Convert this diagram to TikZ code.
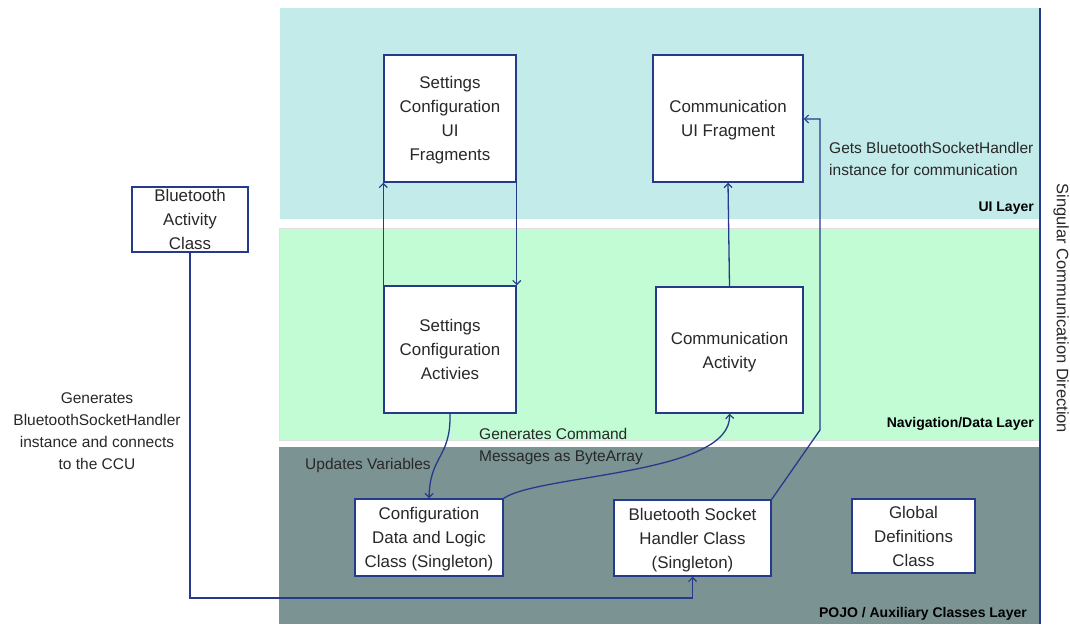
\documentclass[tikz,border=0pt]{standalone}
\usepackage{fontspec}
\setmainfont{Liberation Sans}
\usetikzlibrary{arrows.meta}

\definecolor{linkblue}{RGB}{38,58,140}
\definecolor{uilayer}{RGB}{194,235,233}
\definecolor{navlayer}{RGB}{193,252,213}
\definecolor{pojolayer}{RGB}{123,147,147}
\definecolor{textgray}{RGB}{40,40,40}

% struts giving every class label the same first-line height and last-line depth
\newcommand{\toprule}{\rule{0pt}{17.3pt}}
\newcommand{\botrule}{\rule[-5pt]{0pt}{5pt}}

\tikzset{
  classbox/.style={draw=linkblue, line width=1.5pt, fill=white, inner sep=0pt,
    align=center, text=textgray, font=\fontsize{16.9}{24}\selectfont,
    execute at end node=\botrule},
  tightbox/.style={classbox, execute at end node={}, inner ysep=-3pt},
  link/.style={draw=linkblue, line width=1.3pt,
    -{Straight Barb[length=4pt,width=8pt,line width=1.2pt]}},
  note/.style={inner sep=0pt, text=textgray, font=\fontsize{15.5}{22}\selectfont},
  layername/.style={inner sep=0pt, text=black, font=\fontsize{14}{17}\selectfont\bfseries},
}

\begin{document}
\begin{tikzpicture}[x=1pt, y=-1pt]
  \useasboundingbox (0,0) rectangle (1070,624);

  % layer bands
  \fill[uilayer] (280,8) rectangle (1039,219);
  \fill[navlayer] (279,228) rectangle (1039,440);
  \draw[black!12, line width=0.6pt] (279,228) rectangle (1039,440);
  \fill[pojolayer] (279,447) rectangle (1039,624);
  \draw[linkblue, line width=1.2pt] (1040,8) -- (1040,624);

  % layer names
  \node[layername, anchor=base east] (uiname) at (1034,211) {UI Layer};
  \node[layername, anchor=base east] (navname) at (1034,427) {Navigation/Data Layer};
  \node[layername, anchor=base east] (pojoname) at (1027,617) {POJO / Auxiliary Classes Layer};
  \node[note, rotate=-90, font=\fontsize{16.5}{20}\selectfont] (direction) at (1061,308.5)
    {Singular Communication Direction};

  % classes
  \node[classbox, minimum width=132pt, minimum height=127pt] (setui) at (450,118.5)
    {\toprule Settings\\Configuration\\UI\\Fragments};
  \node[classbox, minimum width=150pt, minimum height=127pt] (comui) at (728,118.5)
    {\toprule Communication\\UI Fragment};
  \node[tightbox, minimum width=116pt, minimum height=65pt] (btact) at (190,219.5)
    {\toprule Bluetooth\\Activity\\Class};
  \node[classbox, minimum width=132pt, minimum height=127pt] (setact) at (450,349.5)
    {\toprule Settings\\Configuration\\Activies};
  \node[classbox, minimum width=147pt, minimum height=126pt] (comact) at (729.5,350)
    {\toprule Communication\\Activity};
  \node[classbox, minimum width=148pt, minimum height=77pt] (confdata) at (429,537.5)
    {\toprule Configuration\\Data and Logic\\Class (Singleton)};
  \node[classbox, minimum width=157pt, minimum height=76pt] (bsh) at (692.5,538)
    {\toprule Bluetooth Socket\\Handler Class\\(Singleton)};
  \node[classbox, minimum width=123pt, minimum height=74pt] (globdef) at (913.5,536)
    {\toprule Global\\Definitions\\Class};

  % connectors
  \draw[link] (setact.north west) -- (setui.south west);
  \draw[link] (setui.south east) -- (setact.north east);
  \draw[link] (comact.north) -- (comui.south);
  \draw[link] (setact.south) .. controls (451,458) and (430,455) .. (confdata.north);
  \draw[link] (confdata.north east) .. controls (540,474) and (732,475) .. (comact.south);
  \coordinate (bshbend) at (820,430);
  \coordinate (bshtop) at (820,119);
  \draw[link] (bsh.north east) -- (bshbend) -- (bshtop) -- (comui.east |- bshtop);
  \coordinate (btlow) at (190,598);
  \draw[link] (btact.south) -- (btlow) -- (bsh.south |- btlow) -- (bsh.south);

  % connector notes
  \node[note, anchor=west, align=left] (getsnote) at (829,159)
    {Gets BluetoothSocketHandler\\instance for communication};
  \node[note, align=center] (gennote) at (97,431.5)
    {Generates\\BluetoothSocketHandler\\instance and connects\\to the CCU};
  \node[note, anchor=base west] (updnote) at (305,469) {Updates Variables};
  \node[note, anchor=west, align=left] (cmdnote) at (479,446.5)
    {Generates Command\\Messages as ByteArray};
\end{tikzpicture}
\end{document}
